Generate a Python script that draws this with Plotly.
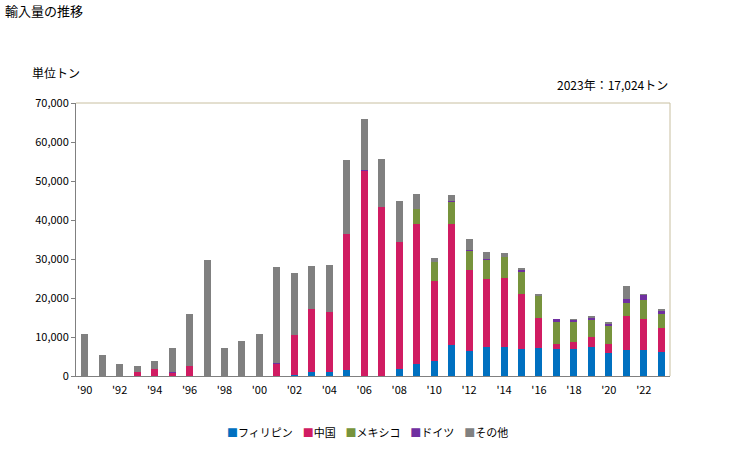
import plotly.graph_objects as go

years = list(range(1990, 2024))

philippines = [0, 0, 0, 0, 0, 0, 0, 0, 0, 0, 0,
               0, 250, 1000, 1000, 1500, 0, 0, 1800, 3100, 3850,
               7950, 6400, 7450, 7450, 6900, 7200, 6900, 6900, 7450, 5900,
               6670, 6670, 6160]
china = [0, 0, 0, 1000, 1800, 770, 2600, 0, 0, 0, 0,
         3100, 10250, 16200, 15400, 34900, 52600, 43400, 32600, 35900, 20550,
         31050, 20800, 17450, 17700, 14100, 7700, 1300, 1800, 2550, 2300,
         8730, 7930, 6140]
mexico = [0, 0, 0, 0, 0, 0, 0, 0, 0, 0, 0,
          0, 0, 0, 0, 0, 0, 0, 0, 3900, 4900,
          5650, 4900, 4900, 5350, 5700, 5800, 5660, 5400, 4370, 4630,
          3330, 4900, 3600]
germany = [0, 0, 0, 0, 0, 300, 0, 0, 0, 0, 0,
           300, 0, 0, 0, 0, 300, 0, 0, 0, 0,
           250, 200, 300, 0, 500, 0, 740, 300, 580, 520,
           1030, 1300, 800]
others = [10800, 5400, 3100, 1600, 2050, 6130, 13300, 29800, 7200, 9000, 10800,
          24600, 15900, 11000, 12100, 19000, 13100, 12300, 10500, 3800, 1000,
          1500, 2850, 1800, 1100, 500, 300, 0, 200, 200, 250,
          3340, 200, 324]

series = [
    ("フィリピン", philippines, "#0070C0"),
    ("中国", china, "#D01C62"),
    ("メキシコ", mexico, "#77933C"),
    ("ドイツ", germany, "#7030A0"),
    ("その他", others, "#808080"),
]

tick_years = list(range(1990, 2024, 2))
tick_text = ["'" + str(y)[2:] for y in tick_years]

font = "Noto Sans CJK JP"

fig = go.Figure()
for name, vals, color in series:
    fig.add_trace(go.Bar(x=years, y=vals, name=name, marker=dict(color=color, line=dict(width=0))))

# compact legend like the original: small square right next to the name
legend_text = "    ".join(
    f"<span style='color:{color}'>■</span>{name}" for name, _, color in series
)

fig.update_layout(
    template="none",
    barmode="stack",
    bargap=0.6,
    width=729,
    height=450,
    margin=dict(l=76, r=59, t=103, b=74, autoexpand=False),
    plot_bgcolor="white",
    paper_bgcolor="white",
    font=dict(family=font, size=11, color="#000000"),
    showlegend=False,
    xaxis=dict(range=[1989.5, 2023.5], tickvals=tick_years, ticktext=tick_text,
               showline=True, linecolor="#808080", linewidth=1, showgrid=False,
               zeroline=False, ticks="", automargin=False, ticklabelstandoff=4,
               tickfont=dict(size=11)),
    yaxis=dict(range=[0, 70000], dtick=10000, tickformat=",", showline=True,
               linecolor="#808080", linewidth=1, showgrid=False, zeroline=False,
               ticks="outside", ticklen=4, tickcolor="#808080", automargin=False,
               tickfont=dict(size=11)),
    shapes=[
        dict(type="line", xref="paper", yref="paper", x0=0, x1=1, y0=1, y1=1,
             line=dict(color="#C8BFA0", width=1)),
        dict(type="line", xref="paper", yref="paper", x0=1, x1=1, y0=0, y1=1,
             line=dict(color="#C8BFA0", width=1)),
    ],
    annotations=[
        dict(text="輸入量の推移", xref="paper", yref="paper", x=-0.1225, y=1.34,
             xanchor="left", yanchor="middle", showarrow=False, font=dict(size=13)),
        dict(text="単位トン", xref="paper", yref="paper", x=-0.0774, y=1.110,
             xanchor="left", yanchor="middle", showarrow=False, font=dict(size=12)),
        dict(text="2023年：17,024トン", xref="paper", yref="paper", x=1.0, y=1.066,
             xanchor="right", yanchor="middle", showarrow=False, font=dict(size=12)),
        dict(text=legend_text, xref="paper", yref="paper", x=0.49, y=-0.205,
             xanchor="center", yanchor="middle", showarrow=False, font=dict(size=11)),
    ],
)

# the page's default body margin would shift the chart by 8px
fig.write_html("out.html", config={"displayModeBar": False},
               post_script="document.body.style.margin='0';")
